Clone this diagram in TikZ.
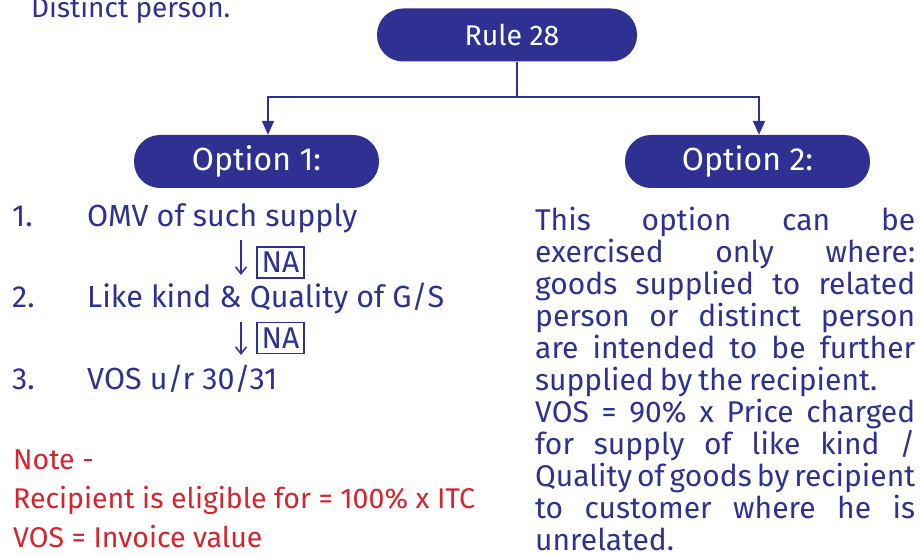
\documentclass[tikz,border=0pt]{standalone}
\usepackage{fontspec}
\setmainfont{Fira Sans}
\usetikzlibrary{arrows.meta}
\definecolor{nblue}{RGB}{46,49,146}
\definecolor{nred}{RGB}{215,35,45}
\begin{document}
\begin{tikzpicture}[x=1pt,y=-1pt,
  pill/.style={fill=nblue, text=white, rounded corners=26pt, minimum height=53pt, inner sep=0pt, font=\fontsize{32}{34}\selectfont},
  body/.style={text=nblue, inner sep=0pt, anchor=base west, font=\fontsize{30.5}{32}\selectfont},
  note/.style={body, text=nred, font=\fontsize{28.5}{32}\selectfont},
  conn/.style={draw=nblue, line width=2pt},
  tip/.style={-{Triangle[length=14pt,width=12pt]}},
  nabox/.style={draw=nblue, line width=1.3pt, text=nblue, minimum width=47pt, minimum height=31pt, inner sep=0pt, font=\fontsize{30}{32}\selectfont},
  smallarrow/.style={draw=nblue, line width=1.5pt, -{Straight Barb[length=7pt,width=11pt]}}]
\useasboundingbox (0,0) rectangle (922,556);

\node[body, font=\fontsize{28}{32}\selectfont] (top) at (31,18) {Distinct person.};
\node[pill, minimum width=260pt, font=\fontsize{28.5}{32}\selectfont] (rule) at (507,35) {\hspace*{10pt}Rule 28};
\node[pill, minimum width=245pt] (opt1) at (256.5,161.5) {Option 1:};
\node[pill, minimum width=245pt] (opt2) at (747.5,161.5) {Option 2:};

\coordinate (j) at (517,97);
\draw[conn] ([xshift=10pt]rule.south) -- (j);
\draw[conn,tip] (j) -| ([xshift=11.5pt]opt1.north);
\draw[conn,tip] (j) -| ([xshift=11.5pt]opt2.north);

\node[body] (n1) at (12,227) {1.};
\node[body] (t1) at (87,227) {OMV of such supply};
\node[body] (n2) at (12,308) {2.};
\node[body] (t2) at (87,308) {Like kind \& Quality of G/S};
\node[body] (n3) at (12,389) {3.};
\node[body] (t3) at (87,389) {VOS u/r 30/31};
\node[nabox] (na1) at (280.5,262.5) {NA};
\node[nabox] (na2) at (280.5,338) {NA};
\coordinate (a1s) at (241,240);
\coordinate (a1e) at (241,275);
\coordinate (a2s) at (241,322);
\coordinate (a2e) at (241,355);
\draw[smallarrow] (a1s) -- (a1e);
\draw[smallarrow] (a2s) -- (a2e);

\node[note] (nt) at (13,469) {Note -};
\node[note] (r1) at (13,508) {Recipient is eligible for = 100\% x ITC};
\node[note] (r2) at (13,547) {VOS = Invoice value};

\node[body, font=\fontsize{30}{32}\selectfont] (para) at (535,231) {\vtop{\hsize=380pt \baselineskip=32pt \lineskiplimit=-50pt \lineskip=0pt
\spaceskip=0.2em plus 10em minus 0.05em
\hbox to 380pt{This option can be}
\hbox to 380pt{exercised only where:}
\hbox to 380pt{goods supplied to related}
\hbox to 380pt{person or distinct person}
\hbox to 380pt{are intended to be further}
\hbox{supplied by the recipient.}
\hbox to 380pt{VOS = 90\% x Price charged}
\hbox to 380pt{for supply of like kind /}
\hbox to 380pt{Quality of goods by recipient}
\hbox to 380pt{to customer where he is}
\hbox{unrelated.}}};
\end{tikzpicture}
\end{document}
